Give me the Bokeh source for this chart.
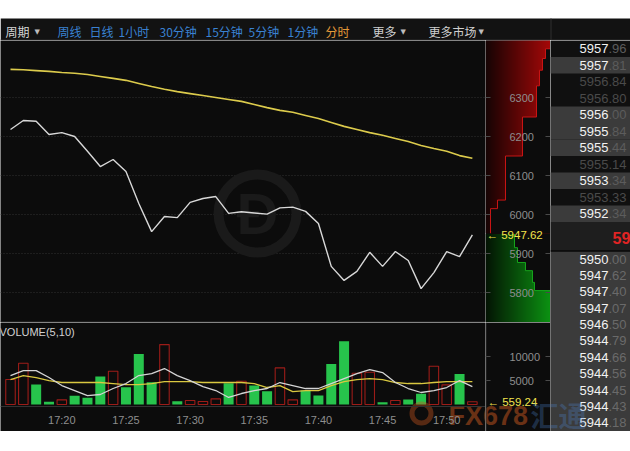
import numpy as np
from bokeh.plotting import figure
from bokeh.models import Range1d, FixedTicker, LinearAxis, Grid, Span
from bokeh.layouts import column, row
from bokeh.embed import file_html
from bokeh.resources import INLINE
from bokeh.core.properties import value

# ---------------- data ----------------
price = [6218, 6241, 6239, 6205, 6210, 6200, 6162, 6123, 6141, 6110, 6028, 5956,
         5995, 5992, 6031, 6041, 6046, 6003, 6007, 6004, 6001, 6017, 6019, 6008,
         5977, 5867, 5831, 5854, 5903, 5867, 5905, 5882, 5810, 5851, 5905, 5892, 5947.62]
avg_price = [6372, 6371, 6369, 6367, 6364, 6362, 6359, 6354, 6349, 6344, 6336, 6328,
             6321, 6315, 6310, 6305, 6300, 6295, 6290, 6282, 6274, 6267, 6262, 6254,
             6246, 6236, 6226, 6218, 6210, 6203, 6195, 6187, 6177, 6169, 6162, 6151, 6144]
volume = [5200, 8600, 4160, 560, 970, 1800, 1390, 5820, 6930, 3600, 10540, 4640,
          12480, 690, 830, 620, 1180, 4440, 4850, 3950, 2770, 7630, 970, 2910,
          1870, 8460, 13170, 6520, 6730, 490, 830, 1040, 2220, 7970, 4090, 6380, 559.24]
bar_up = [1, 1, 0, 0, 1, 0, 0, 0, 1, 0, 0, 0, 1, 0, 1, 1, 1, 0, 1, 0, 0, 1, 1, 0,
          0, 0, 0, 1, 1, 0, 1, 0, 0, 1, 1, 0, 1]
vol_ma5 = [6030, 7070, 7070, 5620, 3950, 2910, 1870, 2080, 3330, 4370, 6030, 6450,
           7490, 6030, 4990, 3740, 2910, 1460, 2290, 2910, 3330, 4580, 3950, 3330,
           3330, 4370, 5410, 6450, 7280, 6660, 4580, 3330, 2500, 2910, 3540, 4990, 3740]
vol_ma10 = [5200, 6030, 5620, 4990, 4580, 4580, 4580, 4580, 4370, 4160, 4160, 4370,
            4780, 4780, 4780, 4580, 4580, 4580, 4580, 4370, 3540, 3950, 2700, 2910,
            2910, 3950, 4780, 5200, 5410, 5200, 4580, 4370, 4370, 4580, 4780, 4780, 4780]
minute_idx = list(range(len(price)))
time_ticks = [4, 9, 14, 19, 24, 29, 34]
time_labels = ["17:20", "17:25", "17:30", "17:35", "17:40", "17:45", "17:50"]
price_ticks = [5800, 5900, 6000, 6100, 6200, 6300]
volume_ticks = [5000, 10000]
last_price = 5947.62
last_volume = 559.24

# depth chart (price boundaries, cumulative depth per step)
ask_edges = [5952, 6015, 6037, 6150, 6250, 6330, 6370, 6400, 6425, 6447]
ask_depth = [5, 12, 20, 37, 51, 54, 57, 60, 65]
bid_edges = [5950, 5915, 5877, 5856, 5826, 5805, 5723]
bid_depth = [29, 32, 40, 47, 49, 65]

# order book
ask_book = [5957.96, 5957.81, 5956.84, 5956.80, 5956.00, 5955.84, 5955.44,
            5955.14, 5953.34, 5953.33, 5952.34]
ask_active = [1, 1, 0, 0, 1, 1, 1, 0, 1, 0, 1]
ask_shaded = [0, 1, 0, 0, 1, 1, 1, 0, 1, 0, 1]
bid_book = [5950.00, 5947.62, 5947.40, 5947.07, 5946.50, 5944.79, 5944.66,
            5944.56, 5944.45, 5944.43, 5944.18]

toolbar_items = ["周期", "▼", "周线", "日线", "1小时", "30分钟", "15分钟", "5分钟",
                 "1分钟", "分时", "更多", "▼", "更多市场", "▼"]

# ---------------- styles / layout ----------------
BG = "#0c0c0c"
FONT = "Liberation Sans"
CJK = "Noto Sans CJK SC"
tb_x = [5, 34, 57, 89, 118, 159, 205, 248, 287, 325, 372, 400, 428, 478]
tb_col = ["#d6d6d6", "#bdbdbd", "#3a82d2", "#3a82d2", "#3a82d2", "#3a82d2", "#3a82d2",
          "#3a82d2", "#3a82d2", "#e49a3a", "#cfcfcf", "#bdbdbd", "#cfcfcf", "#bdbdbd"]
tb_size = ["12px", "7px", "12px", "12px", "12px", "12px", "12px", "12px", "12px",
           "12px", "12px", "7px", "12px", "7px"]

PX_MIN = 12.83      # px per minute
PX_PRICE = 0.39     # px per price unit
PX_VOL = 0.0048     # px per volume unit


def fig(w, h, xr, yr, bg=BG, **kw):
    p = figure(width=w, height=h, x_range=xr, y_range=yr, output_backend="svg",
               toolbar_location=None, x_axis_location=None, y_axis_location=None,
               min_border=0, background_fill_color=bg, border_fill_color=bg,
               outline_line_color=None, **kw)
    p.grid.visible = False
    return p


def txt(p, x, y, s, size="11px", color="#8e8e8e", align="left", font=FONT, style="normal",
        alpha=1.0):
    p.text(x=[x], y=[y], text=[s], text_font=value(font), text_font_size=value(size),
           text_color=color, text_align=align, text_baseline="middle",
           text_font_style=style, text_alpha=alpha)


# ---------------- toolbar ----------------
tb = fig(630, 40, Range1d(0, 630), Range1d(40, 0), bg="white")
tb.quad(left=[0], right=[630], top=[18], bottom=[40], fill_color="#121212", line_color=None)
tb.segment(x0=[0], x1=[630], y0=[39.5], y1=[39.5], line_color="#2c2c2c", line_width=1)
tb.segment(x0=[550.5], x1=[550.5], y0=[18], y1=[40], line_color="#2e2e2e", line_width=1)
for t, x, c, s in zip(toolbar_items, tb_x, tb_col, tb_size):
    txt(tb, x, 31, t, size=s, color=c, font=CJK if s == "12px" else "DejaVu Sans")

# ---------------- price chart ----------------
pp = fig(485, 282, Range1d(-10 / PX_MIN, 475 / PX_MIN),
         Range1d(6300 - 225 / PX_PRICE, 6300 + 57 / PX_PRICE))
pp.add_layout(Grid(dimension=1, ticker=FixedTicker(ticks=price_ticks),
                   grid_line_color="#303030", grid_line_dash="1 2"))
# faint watermark logo
pp.annulus(x=[247 / PX_MIN], y=[6300 - 116 / PX_PRICE], inner_radius=34 / PX_MIN,
           outer_radius=44 / PX_MIN, fill_color="#1a1a1a", line_color=None)
txt(pp, 247 / PX_MIN, 6300 - 116 / PX_PRICE, "Ð", size="58px", color="#1a1a1a",
    align="center", style="bold")
pp.line(minute_idx, avg_price, line_color="#dccb4c", line_width=1.6)
pp.line(minute_idx, price, line_color="#d8d8d8", line_width=1.4)
pp.add_layout(Span(location=6300 - 224.5 / PX_PRICE, dimension="width",
                   line_color="#2e2e2e", line_width=1))

# ---------------- depth chart ----------------
def gradient(c0, c1, n=65):
    t = np.linspace(0, 1, n)
    img = np.zeros((1, n), dtype=np.uint32)
    v = img.view(dtype=np.uint8).reshape((1, n, 4))
    for k in range(3):
        v[0, :, k] = (c0[k] + (c1[k] - c0[k]) * t).astype(np.uint8)
    v[0, :, 3] = 255
    return img


def stair(edges, depth):
    xs, ys = [], []
    for k, w in enumerate(depth):
        xs += [w, w]
        ys += [edges[k], edges[k + 1]]
    return xs, ys


def edge_ticks(p, ticks):
    for loc, tin, tout in [(0, 0, 5), (65, 5, 0)]:
        p.add_layout(LinearAxis(ticker=FixedTicker(ticks=ticks), fixed_location=loc,
                                axis_line_color=None, major_tick_line_color="#4a4a4a",
                                major_tick_in=tin, major_tick_out=tout,
                                minor_tick_line_color=None, major_label_text_color=None),
                     "right")
    p.add_layout(LinearAxis(ticker=FixedTicker(ticks=ticks), fixed_location=14,
                            axis_line_color=None, major_tick_line_color=None,
                            minor_tick_line_color=None, major_label_standoff=4,
                            major_label_text_color="#8e8e8e", major_label_text_font=FONT,
                            major_label_text_font_size="11px"), "right")


dp = fig(65, 282, Range1d(0, 65), pp.y_range)
dp.image_rgba(image=[gradient((22, 4, 4), (165, 8, 8))], x=0, y=ask_edges[0], dw=65,
              dh=ask_edges[-1] - ask_edges[0])
dp.image_rgba(image=[gradient((4, 20, 4), (12, 145, 18))], x=0, y=bid_edges[-1], dw=65,
              dh=bid_edges[0] - bid_edges[-1])
ax_, ay_ = stair(ask_edges, ask_depth)
bx_, by_ = stair(bid_edges, bid_depth)
dp.patch(ax_ + [70, 70], ay_ + [ask_edges[-1] + 5, ask_edges[0]], fill_color=BG, line_color=None)
dp.patch(bx_ + [70, 70], by_ + [bid_edges[-1] - 5, bid_edges[0]], fill_color=BG, line_color=None)
dp.line(ax_, ay_, line_color="#c81414", line_width=1)
dp.line(bx_, by_, line_color="#16a41c", line_width=1)
edge_ticks(dp, price_ticks)
txt(dp, 1, last_price, "← " + f"{last_price:.2f}", size="11.5px", color="#f2e44c")

# ---------------- volume chart ----------------
vp = fig(485, 109, pp.x_range, Range1d(-27 / PX_VOL, 82 / PX_VOL))
up_x = [i for i, u in zip(minute_idx, bar_up) if u]
up_v = [v for v, u in zip(volume, bar_up) if u]
dn_x = [i for i, u in zip(minute_idx, bar_up) if not u]
dn_v = [v for v, u in zip(volume, bar_up) if not u]
vp.vbar(x=dn_x, top=dn_v, bottom=0, width=0.78, fill_color="#27c44c", line_color=None)
vp.vbar(x=up_x, top=up_v, bottom=0, width=0.74, fill_color=None, line_color="#9c1c18",
        line_width=1.1)
vp.line(minute_idx, vol_ma10, line_color="#d9c840", line_width=1.3)
vp.line(minute_idx, vol_ma5, line_color="#d4d4d4", line_width=1.3)
txt(vp, -11 / PX_MIN, 73 / PX_VOL, "VOLUME(5,10)", color="#d2d2d2")
xax = LinearAxis(ticker=FixedTicker(ticks=time_ticks), fixed_location=-2 / PX_VOL,
                 major_label_overrides={t: l for t, l in zip(time_ticks, time_labels)},
                 axis_line_color="#333333", major_tick_line_color=None,
                 minor_tick_line_color=None, major_label_standoff=1,
                 major_label_text_color="#8e8e8e", major_label_text_font=FONT,
                 major_label_text_font_size="11px")
vp.add_layout(xax, "below")

vd = fig(65, 109, Range1d(0, 65), vp.y_range)
vd.add_layout(Span(location=0.5, dimension="height", line_color="#2e2e2e", line_width=1))
edge_ticks(vd, volume_ticks)
txt(vd, 2, last_volume, "← " + f"{last_volume:.2f}", size="11.5px", color="#f2e44c")

# ---------------- order book ----------------
bk = fig(80, 391, Range1d(550, 630), Range1d(431, 40), bg="#101010")
ASK_H, BID_H = 16.5, 16.36
for i, (pv, act, sh) in enumerate(zip(ask_book, ask_active, ask_shaded)):
    top = 40 + ASK_H * i
    cy = top + ASK_H / 2
    if sh:
        bk.quad(left=[550], right=[630], top=[top], bottom=[top + ASK_H],
                fill_color="#3b3b3b", line_color=None)
    ip, dec = f"{pv:.2f}".split(".")
    txt(bk, 608, cy, ip, size="13px", color="#f2f2f2" if act else "#4a4a4a", align="right")
    txt(bk, 608, cy, "." + dec, size="13px", color="#5c5c5c" if act else "#4a4a4a")
mid_top = 40 + ASK_H * len(ask_book)
mid_bot = 250.5
bk.quad(left=[550], right=[630], top=[mid_top], bottom=[mid_bot], fill_color="#1e1e1e",
        line_color=None)
txt(bk, 612, (mid_top + mid_bot) / 2 + 1, f"{last_price:.2f}", size="16px",
    color="#e02424", style="bold")
bk.quad(left=[550], right=[630], top=[mid_bot], bottom=[431], fill_color="#3b3b3b",
        line_color=None)
bk.segment(x0=[550], x1=[630], y0=[mid_bot], y1=[mid_bot], line_color="#080808", line_width=1.5)
for i, pv in enumerate(bid_book):
    cy = mid_bot + BID_H * i + BID_H / 2
    ip, dec = f"{pv:.2f}".split(".")
    txt(bk, 608, cy, ip, size="13px", color="#f2f2f2", align="right")
    txt(bk, 608, cy, "." + dec, size="13px", color="#6a6a6a")

# ---------------- FX678 watermark (spans three panels) ----------------
vp.annulus(x=[(421 - 10) / PX_MIN], y=[(404 - 413) / PX_VOL], inner_radius=7,
           outer_radius=12, inner_radius_units="screen", outer_radius_units="screen",
           fill_color="#c8561e", fill_alpha=0.4, line_color=None)
txt(vp, (448 - 10) / PX_MIN, (404 - 415) / PX_VOL, "FX678", size="27px",
    color="#c8561e", style="bold", alpha=0.5)
txt(vd, 448 - 485, (404 - 415) / PX_VOL, "FX678", size="27px",
    color="#c8561e", style="bold", alpha=0.5)
txt(vd, 530 - 485, (404 - 414) / PX_VOL, "汇通", size="28px", color="#4f86d6",
    font=CJK, style="bold", alpha=0.3)
txt(bk, 530, 414, "汇通", size="28px", color="#4f86d6", font=CJK, style="bold", alpha=0.3)

layout = column(tb, row(column(pp, vp), column(dp, vd), bk))

open("out.html", "w").write(file_html(layout, INLINE))
